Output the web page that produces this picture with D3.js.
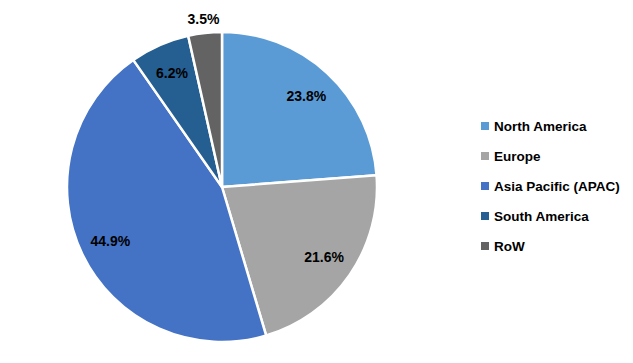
<!DOCTYPE html>
<html>
<head>
<meta charset="utf-8">
<script src="https://cdn.jsdelivr.net/npm/d3@7"></script>
<style>
  body { margin: 0; background: #fff; }
  text { font-family: "Liberation Sans", Arial, sans-serif; font-weight: bold; fill: #000; }
</style>
</head>
<body>
<svg id="chart"></svg>
<script>
// chart values
var regions = ['North America', 'Europe', 'Asia Pacific (APAC)', 'South America', 'RoW'];
var shares = [23.8, 21.6, 44.9, 6.2, 3.5];
var colors = ['#5b9bd5', '#a5a5a5', '#4472c4', '#255e91', '#636363'];

var canvasWidth = 633;
var canvasHeight = 363;
var cx = 222, cy = 187, radius = 155;

var svg = d3.select('#chart')
    .attr('width', canvasWidth)
    .attr('height', canvasHeight);

var data = regions.map(function (r, i) { return {name: r, value: shares[i]}; });

var color = d3.scaleOrdinal().domain(regions).range(colors);

var pie = d3.pie()
    .sort(null)
    .value(function (d) { return d.value; });

var arc = d3.arc().innerRadius(0).outerRadius(radius);

var g = svg.append('g')
    .attr('transform', 'translate(' + cx + ',' + cy + ')');

var arcs = pie(data);

g.selectAll('path')
    .data(arcs)
    .enter()
    .append('path')
    .attr('d', arc)
    .attr('fill', function (d) { return color(d.data.name); })
    .attr('stroke', '#fff')
    .attr('stroke-width', 2.5)
    .attr('stroke-linejoin', 'round');

// labels inside, small slices pushed outside
g.selectAll('text.pct')
    .data(arcs)
    .enter()
    .append('text')
    .attr('class', 'pct')
    .attr('transform', function (d) {
        var r = d.data.value < 5 ? radius * 1.09 : radius * 0.8;
        var a = (d.startAngle + d.endAngle) / 2;
        return 'translate(' + (Math.sin(a) * r) + ',' + (-Math.cos(a) * r) + ')';
    })
    .attr('text-anchor', 'middle')
    .attr('dy', '0.35em')
    .style('font-size', '14px')
    .text(function (d) { return d.data.value.toFixed(1) + '%'; });

// legend
var legendY = d3.scalePoint().domain(regions).range([126, 246]);

var legend = svg.append('g');
var items = legend.selectAll('g')
    .data(regions)
    .enter()
    .append('g')
    .attr('transform', function (d) { return 'translate(481,' + legendY(d) + ')'; });

items.append('rect')
    .attr('x', 0)
    .attr('y', -4)
    .attr('width', 8)
    .attr('height', 8)
    .attr('fill', function (d) { return color(d); });

items.append('text')
    .attr('x', 13)
    .attr('dy', '0.35em')
    .style('font-size', '13.5px')
    .text(function (d) { return d; });
</script>
</body>
</html>
